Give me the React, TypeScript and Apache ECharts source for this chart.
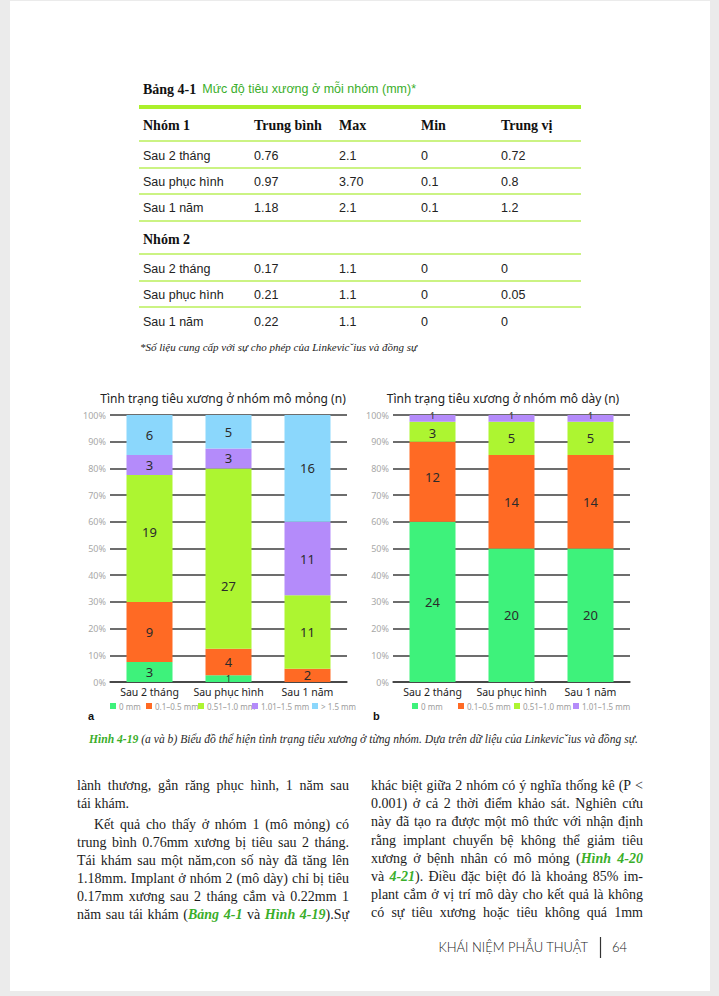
import React, { useEffect, useRef } from "react";
import * as echarts from "echarts";

// ---------- DATA ----------
const categories = ["Sau 2 tháng", "Sau phục hình", "Sau 1 năm"];
const seriesNames = ["0 mm", "0.1–0.5 mm", "0.51–1.0 mm", "1.01–1.5 mm", "> 1.5 mm"];

// Chart a: thin tissue group (counts)
const thin0mm = [3, 1, 0];
const thin01to05 = [9, 4, 2];
const thin051to10 = [19, 27, 11];
const thin101to15 = [3, 3, 11];
const thinOver15 = [6, 5, 16];

// Chart b: thick tissue group (counts)
const thick0mm = [24, 20, 20];
const thick01to05 = [12, 14, 14];
const thick051to10 = [3, 5, 5];
const thick101to15 = [1, 1, 1];

const yTickStep = 10;

// Table
const tableTitleBold = "Bảng 4-1";
const tableTitleText = "Mức độ tiêu xương ở mỗi nhóm (mm)*";
const tableHeader = ["Nhóm 1", "Trung bình", "Max", "Min", "Trung vị"];
const group1Rows = [
  ["Sau 2 tháng", "0.76", "2.1", "0", "0.72"],
  ["Sau phục hình", "0.97", "3.70", "0.1", "0.8"],
  ["Sau 1 năm", "1.18", "2.1", "0.1", "1.2"],
];
const group2Label = "Nhóm 2";
const group2Rows = [
  ["Sau 2 tháng", "0.17", "1.1", "0", "0"],
  ["Sau phục hình", "0.21", "1.1", "0", "0.05"],
  ["Sau 1 năm", "0.22", "1.1", "0", "0"],
];
const tableNote = "*Số liệu cung cấp với sự cho phép của Linkevicˇius và đồng sự";

const titleA = "Tình trạng tiêu xương ở nhóm mô mỏng (n)";
const titleB = "Tình trạng tiêu xương ở nhóm mô dày (n)";
const captionLabel = "Hình 4-19";
const captionText = " (a và b) Biểu đồ thể hiện tình trạng tiêu xương ở từng nhóm. Dựa trên dữ liệu của Linkevicˇius và đồng sự.";
const footerText = "KHÁI NIỆM PHẪU THUẬT";
const pageNumber = "64";

// Body text: segments [text, kind] where kind: "n" normal, "g" green bold italic
type Seg = [string, string];
const leftLines: { segs: Seg[]; justify: boolean; indent?: boolean }[] = [
  { segs: [["lành thương, gắn răng phục hình, 1 năm sau", "n"]], justify: true },
  { segs: [["tái khám.", "n"]], justify: false },
  { segs: [["Kết quả cho thấy ở nhóm 1 (mô mỏng) có", "n"]], justify: true, indent: true },
  { segs: [["trung bình 0.76mm xương bị tiêu sau 2 tháng.", "n"]], justify: true },
  { segs: [["Tái khám sau một năm,con số này đã tăng lên", "n"]], justify: true },
  { segs: [["1.18mm. Implant ở nhóm 2 (mô dày) chỉ bị tiêu", "n"]], justify: true },
  { segs: [["0.17mm xương sau 2 tháng cắm và 0.22mm 1", "n"]], justify: true },
  {
    segs: [
      ["năm sau tái khám (", "n"],
      ["Bảng 4-1", "g"],
      [" và ", "n"],
      ["Hình 4-19", "g"],
      [").Sự", "n"],
    ],
    justify: true,
  },
];
const rightLines: { segs: Seg[]; justify: boolean; indent?: boolean }[] = [
  { segs: [["khác biệt giữa 2 nhóm có ý nghĩa thống kê (P <", "n"]], justify: true },
  { segs: [["0.001) ở cả 2 thời điểm khảo sát. Nghiên cứu", "n"]], justify: true },
  { segs: [["này đã tạo ra được một mô thức với nhận định", "n"]], justify: true },
  { segs: [["rằng implant chuyển bệ không thể giảm tiêu", "n"]], justify: true },
  { segs: [["xương ở bệnh nhân có mô mỏng (", "n"], ["Hình 4-20", "g"]], justify: true },
  { segs: [["và ", "n"], ["4-21", "g"], ["). Điều đặc biệt đó là khoảng 85% im-", "n"]], justify: true },
  { segs: [["plant cắm ở vị trí mô dày cho kết quả là không", "n"]], justify: true },
  { segs: [["có sự tiêu xương hoặc tiêu không quá 1mm", "n"]], justify: true },
];

// ---------- STYLE ----------
const barColors = ["#3ef27b", "#ff6a24", "#adf531", "#b48bfa", "#8bd7fc"];
const GREEN_TEXT = "#3aae2a";
const DARK = "#222222";
const SERIF = "'Liberation Serif', serif";
const SANS = "'Liberation Sans', Arial, sans-serif";
const NOTO = "'Noto Sans', sans-serif";

let measureCtx: CanvasRenderingContext2D | null = null;
function measure(text: string, font: string) {
  if (!measureCtx) measureCtx = document.createElement("canvas").getContext("2d");
  measureCtx!.font = font;
  return measureCtx!.measureText(text).width;
}

function txt(x: number, y: number, text: string, font: string, fill: string, align = "left") {
  return {
    type: "text",
    x,
    y,
    silent: true,
    style: { text, font, fill, align, textAlign: align, verticalAlign: "middle", textVerticalAlign: "middle" },
  };
}

function layoutLine(
  segs: [string, string, string][],
  x0: number,
  width: number,
  y: number,
  justify: boolean,
  els: any[]
) {
  const words: [string, string, string][][] = [[]];
  segs.forEach(([t, f, c]) => {
    t.split(" ").forEach((part, i) => {
      if (i > 0) words.push([]);
      if (part) words[words.length - 1].push([part, f, c]);
    });
  });
  const ws = words.filter((w) => w.length);
  const widths = ws.map((w) => w.reduce((s, [t, f]) => s + measure(t, f), 0));
  const total = widths.reduce((a, b) => a + b, 0);
  const gap = justify && ws.length > 1 ? (width - total) / (ws.length - 1) : measure(" ", segs[0][1]);
  let x = x0;
  ws.forEach((w, i) => {
    let xx = x;
    w.forEach(([t, f, c]) => {
      els.push(txt(xx, y, t, f, c));
      xx += measure(t, f);
    });
    x += widths[i] + gap;
  });
}

function buildOption() {
  const els: any[] = [];

  // ---- Table ----
  const colX = [143, 254, 339, 421, 501];
  const titleFont = `bold 14px ${SERIF}`;
  els.push(txt(143, 89, tableTitleBold, titleFont, "#111"));
  els.push(txt(143 + measure(tableTitleBold, titleFont) + 6, 89, tableTitleText, `12.5px ${SANS}`, GREEN_TEXT));
  els.push({ type: "line", silent: true, shape: { x1: 139, y1: 107, x2: 581, y2: 107 }, style: { stroke: "#abf02b", lineWidth: 4 } });
  const thinLinesY = [141, 168, 194, 221, 254, 281, 307];
  thinLinesY.forEach((y) =>
    els.push({ type: "line", silent: true, shape: { x1: 139, y1: y, x2: 581, y2: y }, style: { stroke: "#cbf383", lineWidth: 2 } })
  );
  const headFont = `bold 14px ${SERIF}`;
  tableHeader.forEach((h, i) => els.push(txt(colX[i], 125, h, headFont, "#111")));
  const cellFont = `12.5px ${SANS}`;
  const g1Y = [156, 182, 208];
  group1Rows.forEach((row, r) => row.forEach((c, i) => els.push(txt(colX[i], g1Y[r], c, cellFont, DARK))));
  els.push(txt(143, 239, group2Label, headFont, "#111"));
  const g2Y = [269, 295, 322];
  group2Rows.forEach((row, r) => row.forEach((c, i) => els.push(txt(colX[i], g2Y[r], c, cellFont, DARK))));
  els.push(txt(140, 347, tableNote, `italic 11px ${SERIF}`, DARK));

  // ---- Chart titles ----
  els.push(txt(223, 398, titleA, `12px ${NOTO}`, DARK, "center"));
  els.push(txt(503, 398, titleB, `12px ${NOTO}`, DARK, "center"));
  els.push(txt(88, 716, "a", `bold 11px ${SANS}`, "#111"));
  els.push(txt(373, 716, "b", `bold 11px ${SANS}`, "#111"));

  // ---- Caption ----
  const capFont = `italic 11.6px ${SERIF}`;
  layoutLine(
    [
      [captionLabel, `italic bold 11.6px ${SERIF}`, GREEN_TEXT],
      [captionText, capFont, "#2a2a2a"],
    ],
    89,
    553,
    739,
    false,
    els
  );

  // ---- Body text ----
  const bodyFont = `14px ${SERIF}`;
  const greenFont = `italic bold 14px ${SERIF}`;
  const toSegs = (segs: Seg[]) =>
    segs.map(([t, k]) => [t, k === "g" ? greenFont : bodyFont, k === "g" ? GREEN_TEXT : "#1c1c1c"] as [string, string, string]);
  const leftY = [785, 803, 824, 842, 860, 878, 896, 914];
  const rightY = [785, 803, 821, 840, 858, 876, 894, 912];
  const colW = 272;
  leftLines.forEach((l, i) => {
    const ind = l.indent ? 17 : 0;
    layoutLine(toSegs(l.segs), 77 + ind, colW - ind, leftY[i], l.justify, els);
  });
  rightLines.forEach((l, i) => {
    const ind = l.indent ? 17 : 0;
    layoutLine(toSegs(l.segs), 371 + ind, colW - ind, rightY[i], l.justify, els);
  });

  // ---- Footer ----
  const footFont = `300 13px Lato, ${SANS}`;
  els.push(txt(588, 947, footerText, footFont, DARK, "right"));
  els.push({ type: "line", silent: true, shape: { x1: 600.5, y1: 937, x2: 600.5, y2: 958 }, style: { stroke: "#333", lineWidth: 1.2 } });
  els.push(txt(612, 947, pageNumber, footFont, DARK));

  // ---- Charts ----
  const thinArrs = [thin0mm, thin01to05, thin051to10, thin101to15, thinOver15];
  const thickArrs = [thick0mm, thick01to05, thick051to10, thick101to15];
  const labelNudges: Record<string, number[]> = {
    "0-2-1": [0, 27],
    "0-2-0": [0, -6],
    "1-1-0": [0, -5],
    "1-3-0": [0, -3],
    "1-3-1": [0, -3],
    "1-3-2": [0, -3],
    "1-2-0": [0, 1],
  };

  const makeSeries = (arrs: number[][], idx: number) => {
    const totals = categories.map((_, i) => arrs.reduce((s, a) => s + a[i], 0));
    return arrs.map((counts, si) => ({
      type: "bar",
      name: seriesNames[si],
      stack: "s" + idx,
      xAxisIndex: idx,
      yAxisIndex: idx,
      barWidth: 46,
      itemStyle: { color: barColors[si] },
      label: {
        show: true,
        position: "inside",
        fontFamily: NOTO,
        fontSize: 13,
        lineHeight: 13,
        color: "#2b2b2b",
        formatter: (p: any) => (counts[p.dataIndex] ? String(counts[p.dataIndex]) : ""),
      },
      data: counts.map((c, i) => {
        const pct = (c / totals[i]) * 100;
        const nudge = labelNudges[`${idx}-${si}-${i}`];
        const item: any = { value: pct };
        if (nudge) item.label = { offset: nudge };
        if (pct < 4) item.label = { ...(item.label || {}), fontSize: 9, lineHeight: 9 };
        return item;
      }),
    }));
  };

  const yAxis = (idx: number) => ({
    type: "value",
    gridIndex: idx,
    min: 0,
    max: 100,
    interval: yTickStep,
    axisLine: { show: false },
    axisTick: { show: false },
    axisLabel: { formatter: "{value}%", fontFamily: NOTO, fontSize: 9, color: "#a8a8a8", margin: 4 },
    splitLine: { lineStyle: { color: "#3c3c3c", width: 1.5 } },
  });
  const xAxis = (idx: number) => ({
    type: "category",
    gridIndex: idx,
    data: categories,
    axisLine: { show: true, lineStyle: { color: "#3c3c3c", width: 1.5 } },
    axisTick: { show: false },
    axisLabel: { interval: 0, fontFamily: NOTO, fontSize: 10.5, color: DARK, margin: 4 },
  });

  const legendPosA = [110, 146, 198, 252, 312];
  const legendPosB = [412, 458, 514, 573];
  const legendItem = (name: string, left: number) => ({
    data: [name],
    left,
    top: 702,
    padding: 0,
    itemWidth: 6,
    itemHeight: 6,
    icon: "rect",
    selectedMode: false,
    textStyle: { fontFamily: NOTO, fontSize: 8, color: "#9c9c9c", padding: [0, 0, 0, -2] },
  });

  return {
    animation: false,
    grid: [
      { left: 110, top: 415, width: 237, height: 267 },
      { left: 393, top: 415, width: 237, height: 267 },
    ],
    xAxis: [xAxis(0), xAxis(1)],
    yAxis: [yAxis(0), yAxis(1)],
    legend: [
      ...legendPosA.map((l, i) => legendItem(seriesNames[i], l)),
      ...legendPosB.map((l, i) => legendItem(seriesNames[i], l)),
    ],
    series: [...makeSeries(thinArrs, 0), ...makeSeries(thickArrs, 1)],
    graphic: { elements: els },
  };
}

export default function App() {
  const ref = useRef<HTMLDivElement>(null);
  useEffect(() => {
    const chart = echarts.init(ref.current!, null, { renderer: "svg" });
    chart.setOption(buildOption() as any);
    return () => chart.dispose();
  }, []);
  return (
    <div style={{ position: "absolute", left: 0, top: 0, width: 719, height: 996, background: "#ebebeb", overflow: "hidden" }}>
      <div style={{ position: "absolute", left: 10, top: 1, width: 700, height: 990, background: "#ffffff" }} />
      <div ref={ref} style={{ position: "absolute", left: 0, top: 0, width: 719, height: 996 }} />
    </div>
  );
}
